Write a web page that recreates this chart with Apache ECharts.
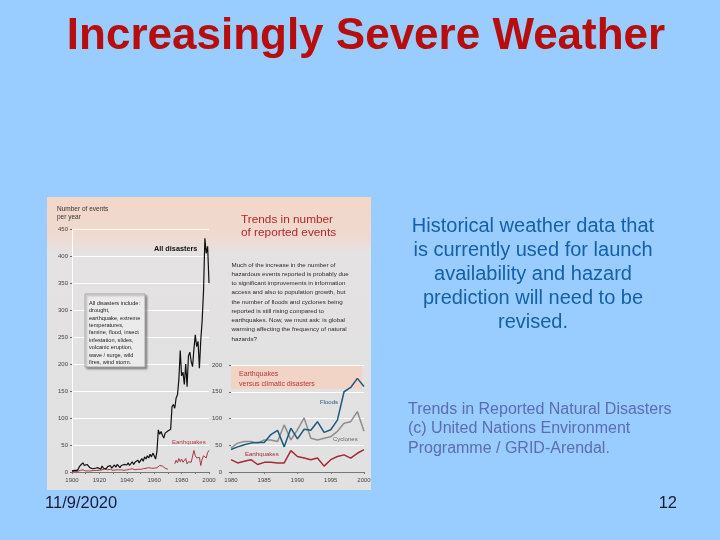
<!DOCTYPE html>
<html><head><meta charset="utf-8">
<script src="https://cdn.jsdelivr.net/npm/echarts@6/dist/echarts.min.js"></script>
<style>html,body{margin:0;padding:0;background:#99ccff}#c{width:720px;height:540px}</style>
</head><body><div id="c"></div>
<script>
// ---- data ----
const longStartYear = 1900;
const allDisasters = [
  2,4,3,6,3,8,12,9,17,12,
  15,14,16,8,5,6,4,7,5,8,
  9,5,11,7,9,6,10,8,12,7,
  10,13,9,14,11,8,12,10,14,11,
  13,17,12,15,19,14,18,16,22,17,
  21,25,20,28,24,30,26,33,28,35,
  30,24,38,78,70,75,68,63,72,70,
  76,73,79,121,125,118,137,143,171,225,
  178,185,162,200,158,215,222,205,195,228,
  254,232,242,192,245,280,335,433,405,418,
  350
];
const earthquakesLong = [
  1,2,1,2,1,2,3,2,4,3,
  2,3,2,3,2,4,3,2,3,4,
  3,2,4,3,5,3,4,3,5,4,
  3,5,4,3,4,6,4,5,3,5,
  4,6,5,4,6,5,4,7,5,6,
  5,7,6,5,7,6,8,5,7,6,
  7,9,8,10,12,9,11,8,7,6,
  5,null,null,null,null,15,22,17,25,19,
  24,18,21,25,15,19,20,18,19,40,
  30,26,24,27,12,24,30,33,26,36,
  40
];
const insetStartYear = 1980;
const floods   = [42,47,51,54,55,55,70,78,47,82,62,80,78,94,74,79,97,150,158,175,160];
const cyclones = [45,54,57,57,54,60,60,57,88,60,79,101,63,60,63,66,76,91,94,113,76];
const earthquakesInset = [23,17,20,23,14,18,18,17,17,40,29,26,23,26,11,23,29,32,26,35,42];

const longTicks = {min:1900, max:2000, step:20};
const insetTicks = {min:1980, max:2000, step:5};

const pairs = (arr, start) => arr.map((v, i) => [start + i, v]);

const titleText = 'Increasingly Severe Weather';
const bodyLines = ['Historical weather data that','is currently used for launch','availability and hazard','prediction will need to be','revised.'];
const sourceLines = ['Trends in Reported Natural Disasters','(c) United Nations Environment','Programme / GRID-Arendal.'];
const paraLines = [
  'Much of the increase in the number of',
  'hazardous events reported is probably due',
  'to significant improvements in information',
  'access and also to population growth, but',
  'the number of floods and cyclones being',
  'reported is still rising compared to',
  'earthquakes. Now, we must ask: is global',
  'warming affecting the frequency of natural',
  'hazards?'
];
const boxLines = ['All disasters include:','drought,','earthquake, extreme','temperatures,','famine, flood, insect','infestation, slides,','volcanic eruption,','wave / surge, wild','fires, wind storm.'];

const chart = echarts.init(document.getElementById('c'), null, {renderer:'canvas'});
const axisLabelStyle = {fontSize:6, color:'#444', fontFamily:'Arial', formatter:(v)=>String(v)};
const option = {
  backgroundColor:'#99ccff',
  animation:false,
  grid:[
    {left:72, right:511, top:229, bottom:68},
    {left:231, right:356, top:365, bottom:68}
  ],
  xAxis:[
    {gridIndex:0, type:'value', min:longTicks.min, max:longTicks.max, interval:longTicks.step,
     axisLine:{lineStyle:{color:'#777', width:1}}, axisTick:{length:2, lineStyle:{color:'#777'}},
     minorTick:{show:true, splitNumber:2, length:2, lineStyle:{color:'#777'}},
     axisLabel:Object.assign({margin:5}, axisLabelStyle), splitLine:{show:false}},
    {gridIndex:1, type:'value', min:insetTicks.min, max:insetTicks.max, interval:insetTicks.step,
     axisLine:{lineStyle:{color:'#777', width:1}}, axisTick:{length:2, lineStyle:{color:'#777'}},
     axisLabel:Object.assign({margin:5}, axisLabelStyle), splitLine:{show:false}}
  ],
  yAxis:[
    {gridIndex:0, type:'value', min:0, max:450, interval:50,
     axisLine:{show:true, lineStyle:{color:'#ffffff', width:1}},
     axisTick:{show:true, length:2, lineStyle:{color:'#666'}},
     axisLabel:Object.assign({margin:4}, axisLabelStyle),
     splitLine:{show:true, lineStyle:{color:'#ffffff', width:1}}},
    {gridIndex:1, type:'value', min:0, max:200, interval:50,
     axisLine:{show:false}, axisTick:{show:true, length:2, lineStyle:{color:'#666'}},
     axisLabel:Object.assign({margin:9}, axisLabelStyle),
     splitLine:{show:true, lineStyle:{color:'#ffffff', width:1}}}
  ],
  series:[
    {type:'line', xAxisIndex:0, yAxisIndex:0, data:pairs(allDisasters, longStartYear), symbol:'none',
     lineStyle:{color:'#111', width:1.2}, z:3},
    {type:'line', xAxisIndex:0, yAxisIndex:0, data:pairs(earthquakesLong, longStartYear), symbol:'none',
     lineStyle:{color:'#a63a40', width:1}, z:2},
    {type:'line', xAxisIndex:1, yAxisIndex:1, data:pairs(cyclones, insetStartYear), symbol:'none',
     lineStyle:{color:'#8e8e8e', width:1.5}, z:2},
    {type:'line', xAxisIndex:1, yAxisIndex:1, data:pairs(floods, insetStartYear), symbol:'none',
     lineStyle:{color:'#1d5a7c', width:1.5}, z:3},
    {type:'line', xAxisIndex:1, yAxisIndex:1, data:pairs(earthquakesInset, insetStartYear), symbol:'none',
     lineStyle:{color:'#a52a35', width:1.5}, z:3}
  ],
  graphic:[
    {type:'rect', z:-10, shape:{x:47, y:197, width:324, height:293},
     style:{fill:{type:'linear', x:0, y:0, x2:0, y2:1, colorStops:[
       {offset:0, color:'#f3d7c8'}, {offset:0.13, color:'#f0d9cf'}, {offset:0.19, color:'#e4e2e2'}, {offset:1, color:'#e1e1e1'}]}}},
    {type:'rect', z:1, shape:{x:231, y:366, width:131, height:23}, style:{fill:'#f1d4c5'}},
    {type:'rect', z:5, shape:{x:85, y:294, width:60, height:73},
     style:{fill:'#ebebeb', stroke:'#9a9a9a', lineWidth:0.8, shadowBlur:2, shadowOffsetX:1.5, shadowOffsetY:1.5, shadowColor:'rgba(0,0,0,0.35)'}},
    {type:'text', z:10, style:{text:boxLines.join('\n'), x:89, y:299.5, font:'5.6px Arial', lineHeight:7.4, fill:'#222', textAlign:'left', textVerticalAlign:'top'}},
    {type:'text', z:10, style:{text:'Number of events\nper year', x:57, y:204.5, font:'6.5px Arial', lineHeight:8.5, fill:'#333', textAlign:'left', textVerticalAlign:'top'}},
    {type:'text', z:10, style:{text:'All disasters', x:154, y:248.5, font:'bold 7.3px Arial', fill:'#111', textAlign:'left', textVerticalAlign:'middle'}},
    {type:'text', z:10, style:{text:'Earthquakes', x:172, y:442, font:'6px Arial', fill:'#a63a40', textAlign:'left', textVerticalAlign:'middle'}},
    {type:'text', z:10, style:{text:'Trends in number\nof reported events', x:241, y:213.5, font:'11.8px Arial', lineHeight:12.8, fill:'#b3272b', textAlign:'left', textVerticalAlign:'top'}},
    {type:'text', z:10, style:{text:paraLines.join('\n'), x:231.5, y:260.4, font:'6.2px Arial', lineHeight:9.25, fill:'#2a2a2a', textAlign:'left', textVerticalAlign:'top'}},
    {type:'text', z:10, style:{text:'Earthquakes\nversus climatic disasters', x:239, y:368.5, font:'7px Arial', lineHeight:10.5, fill:'#b8363a', textAlign:'left', textVerticalAlign:'top'}},
    {type:'text', z:10, style:{text:'Floods', x:320, y:402, font:'6px Arial', fill:'#1d5a7c', textAlign:'left', textVerticalAlign:'middle'}},
    {type:'text', z:10, style:{text:'Cyclones', x:333, y:439, font:'6px Arial', fill:'#666', textAlign:'left', textVerticalAlign:'middle'}},
    {type:'text', z:10, style:{text:'Earthquakes', x:245, y:454, font:'6px Arial', fill:'#a52a35', textAlign:'left', textVerticalAlign:'middle'}},
    {type:'text', z:10, style:{text:titleText, x:366, y:37, font:'bold 44px Arial', fill:'#b80d0d', textAlign:'center', textVerticalAlign:'middle'}},
    {type:'text', z:10, style:{text:bodyLines.join('\n'), x:533, y:214, font:'20px Arial', lineHeight:24, fill:'#1560a6', textAlign:'center', textVerticalAlign:'top'}},
    {type:'text', z:10, style:{text:sourceLines.join('\n'), x:408, y:399.5, font:'16px Arial', lineHeight:19.5, fill:'#5b6db4', textAlign:'left', textVerticalAlign:'top'}},
    {type:'text', z:10, style:{text:'11/9/2020', x:45, y:503.5, font:'16.5px Arial', fill:'#1a1a3a', textAlign:'left', textVerticalAlign:'middle'}},
    {type:'text', z:10, style:{text:'12', x:677, y:503.5, font:'16.5px Arial', fill:'#1a1a3a', textAlign:'right', textVerticalAlign:'middle'}}
  ]
};
chart.setOption(option);
</script>
</body></html>
